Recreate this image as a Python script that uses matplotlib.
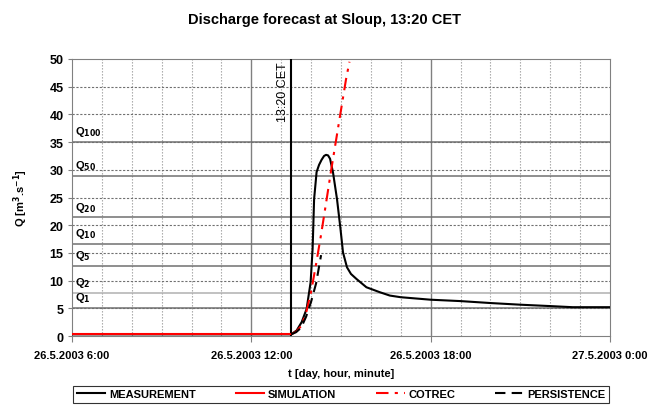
import matplotlib
matplotlib.use("Agg")
import matplotlib.pyplot as plt
import numpy as np

plt.rcParams["font.family"] = ["Liberation Sans", "DejaVu Sans"]
plt.rcParams["font.weight"] = "bold"

# ---------------------------------------------------------------------------
# data (hours since 26.5.2003 0:00)
# ---------------------------------------------------------------------------
def h(s):
    hh, mm = s.split(":")
    return int(hh) + int(mm) / 60.0

meas_t = ["6:00", "13:20", "13:31", "13:41", "13:51", "13:59", "14:03", "14:06",
          "14:11", "14:16", "14:21", "14:26", "14:30", "14:34", "14:38", "14:44",
          "14:52", "14:59", "15:04", "15:12", "15:20", "15:31", "15:51", "16:18",
          "16:38", "17:00", "18:00", "19:00", "20:00", "21:00", "22:00", "22:45",
          "24:00"]
meas_q = [0.3, 0.3, 1.0, 2.5, 4.9, 9.7, 15.7, 24.7,
          29.6, 30.9, 31.8, 32.5, 32.7, 32.6, 32.0, 29.5,
          24.7, 19.3, 15.1, 12.4, 11.2, 10.3, 8.8, 7.9,
          7.3, 7.0, 6.55, 6.3, 5.95, 5.65, 5.4, 5.2,
          5.2]

sim_t = ["6:00", "13:20"]
sim_q = [0.35, 0.35]

cotrec_t = ["13:20", "13:30", "13:40", "13:50", "14:00", "14:10", "14:20",
            "14:30", "14:40", "14:50", "15:00", "15:10", "15:17"]
cotrec_q = [0.3, 0.8, 1.8, 4.2, 8.0, 13.0, 18.3, 24.0, 29.8, 35.3, 40.8, 46.3, 49.5]

pers_t = ["13:20", "13:30", "13:40", "13:50", "14:00", "14:10", "14:20"]
pers_q = [0.3, 0.7, 1.5, 3.5, 6.2, 9.5, 14.6]

q_names = [r"Q$_\mathbf{1}$", r"Q$_\mathbf{2}$", r"Q$_\mathbf{5}$", r"Q$_\mathbf{10}$",
           r"Q$_\mathbf{20}$", r"Q$_\mathbf{50}$", r"Q$_\mathbf{100}$"]
q_levels = [5.0, 7.7, 12.6, 16.6, 21.4, 28.9, 35.0]

xtick_hours = [6, 12, 18, 24]
xtick_labels = ["26.5.2003 6:00", "26.5.2003 12:00", "26.5.2003 18:00", "27.5.2003 0:00"]
forecast_time = "13:20"

# ---------------------------------------------------------------------------
fig = plt.figure(figsize=(6.49, 4.06), dpi=100)
ax = fig.add_axes([72 / 649, 1 - 337 / 406, 538 / 649, 277 / 406])

ax.set_xlim(6, 24)
ax.set_ylim(0, 50)

# grid: dotted every hour / every 5
for xx in np.arange(7, 24, 1):
    if xx in (12, 18):
        ax.axvline(xx, color="#808080", lw=1.0, zorder=1)
    else:
        ax.axvline(xx, color="#a0a0a0", lw=0.8, ls=(0, (1.2, 1.5)), zorder=1)
for yy in np.arange(5, 50, 5):
    ax.axhline(yy, color="#707070", lw=0.8, ls=(0, (2, 1.5)), zorder=1)

# return-period levels
for name, lev in zip(q_names, q_levels):
    col = "#b0b0b0" if lev == 7.7 else "#707070"
    ax.axhline(lev, color=col, lw=1.1, zorder=2)
    ax.text(6.1, lev + 0.7, name, fontsize=8, fontweight="bold", va="bottom", ha="left")

# forecast time line
ft = h(forecast_time)
ax.axvline(ft, color="black", lw=1.5, zorder=4)
ax.text(ft - 0.08, 49.5, "13:20 CET", rotation=90, ha="right", va="top", fontsize=9,
        fontweight="normal")

l1, = ax.plot([h(t) for t in meas_t], meas_q, color="black", lw=1.5, zorder=5,
              label="MEASUREMENT")
l2, = ax.plot([h(t) for t in sim_t], sim_q, color="red", lw=1.5, zorder=6,
              label="SIMULATION")
l3, = ax.plot([h(t) for t in cotrec_t], cotrec_q, color="red", lw=1.5, zorder=6,
              ls=(0, (6, 3, 1.5, 3)), label="COTREC")
l4, = ax.plot([h(t) for t in pers_t], pers_q, color="black", lw=1.5, zorder=6,
              ls=(0, (5, 3)), label="PERSISTENCE")

ax.set_xticks(xtick_hours)
ax.set_xticklabels(xtick_labels, fontsize=8, fontweight="bold")
ax.set_yticks(np.arange(0, 51, 5))
ax.tick_params(axis="y", labelsize=9, length=3, color="#808080", pad=3)
ax.tick_params(axis="x", length=4, color="#808080", pad=6)
for lab in ax.get_yticklabels():
    lab.set_fontweight("bold")
for sp in ax.spines.values():
    sp.set_color("#808080")

ax.set_xlabel("t [day, hour, minute]", fontsize=8, fontweight="bold", labelpad=6)
ax.set_ylabel(r"Q [m$^\mathbf{3}$.s$^\mathbf{-1}$]", fontsize=8, fontweight="bold",
              labelpad=14)

fig.text(0.5, 1 - 20 / 406, "Discharge forecast at Sloup, 13:20 CET", ha="center",
         va="center", fontsize=10.5, fontweight="bold")

leg = fig.legend(handles=[l1, l2, l3, l4], loc="upper center",
                 bbox_to_anchor=(341 / 649, 1 - 387 / 406), ncol=4,
                 frameon=True, fancybox=False, edgecolor="black", handlelength=2.6,
                 columnspacing=3.6, handletextpad=0.3, borderpad=0.3,
                 borderaxespad=0, prop={"weight": "bold", "size": 8})
leg.get_frame().set_linewidth(0.8)

fig.savefig("out.png", dpi=100)
